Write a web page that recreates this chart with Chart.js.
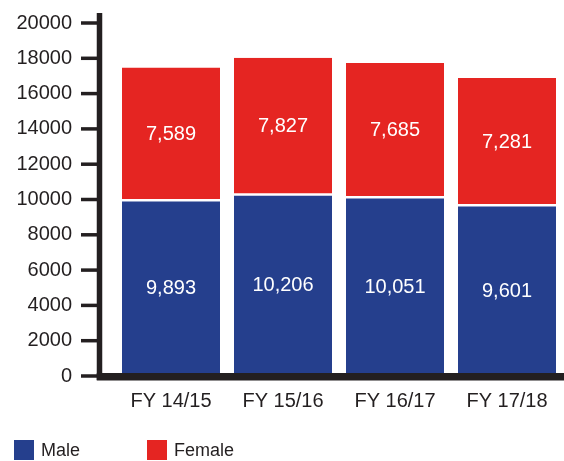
<!DOCTYPE html>
<html>
<head>
<meta charset="utf-8">
<script src="https://cdn.jsdelivr.net/npm/chart.js@4.4.1/dist/chart.umd.min.js"></script>
<style>
html,body{margin:0;padding:0;background:#ffffff;}
#wrap{width:564px;height:461px;position:relative;}
</style>
</head>
<body>
<div id="wrap"><canvas id="c" width="564" height="461"></canvas></div>
<script>
// ---- data ----
const categories = ['FY 14/15', 'FY 15/16', 'FY 16/17', 'FY 17/18'];
const seriesNames = ['Male', 'Female'];
const maleValues = [9893, 10206, 10051, 9601];
const femaleValues = [7589, 7827, 7685, 7281];
const yTickValues = [0, 2000, 4000, 6000, 8000, 10000, 12000, 14000, 16000, 18000, 20000];

// ---- style ----
const FONT = 'Liberation Sans, Arial, Helvetica, sans-serif';
const FONT_SIZE = 20;
const LEGEND_FONT_SIZE = 18;
const INK = '#231F20';
const BLUE = '#253F8D';
const RED = '#E52522';

const valueLabelPlugin = {
  id: 'valueLabels',
  afterDatasetsDraw(chart) {
    const ctx = chart.ctx;
    ctx.save();
    ctx.font = FONT_SIZE + 'px ' + FONT;
    ctx.fillStyle = '#FFFFFF';
    ctx.textAlign = 'center';
    ctx.textBaseline = 'middle';
    chart.data.datasets.forEach((ds, di) => {
      const meta = chart.getDatasetMeta(di);
      meta.data.forEach((el, i) => {
        const v = ds.data[i];
        const y = (el.y + el.base) / 2;
        ctx.fillText(v.toLocaleString('en-US'), el.x, y);
      });
    });
    ctx.restore();
  }
};

const axesPlugin = {
  id: 'customAxes',
  afterDatasetsDraw(chart) {
    const ctx = chart.ctx;
    const a = chart.chartArea;
    const ys = chart.scales.y;
    const lineX = a.left - 15.5;
    ctx.save();
    ctx.strokeStyle = INK;
    ctx.fillStyle = INK;
    // tick marks
    ctx.lineWidth = 3.5;
    ys.ticks.forEach(t => {
      const py = ys.getPixelForValue(t.value);
      ctx.beginPath();
      ctx.moveTo(a.left - 34, py);
      ctx.lineTo(lineX, py);
      ctx.stroke();
    });
    // vertical axis line
    const y0 = ys.getPixelForValue(0);
    const yTop = ys.getPixelForValue(ys.max) - 10;
    ctx.fillRect(lineX - 2.75, yTop, 5.5, y0 + 4 - yTop);
    // horizontal axis line
    ctx.fillRect(lineX - 2.75, y0 - 3, chart.width - (lineX - 2.75), 7.5);
    ctx.restore();
  }
};

const legendPlugin = {
  id: 'customLegend',
  afterDraw(chart) {
    const ctx = chart.ctx;
    const xs = [14, 147];
    ctx.save();
    ctx.font = LEGEND_FONT_SIZE + 'px ' + FONT;
    ctx.textAlign = 'left';
    ctx.textBaseline = 'middle';
    chart.data.datasets.forEach((ds, i) => {
      ctx.fillStyle = ds.backgroundColor;
      ctx.fillRect(xs[i], 440, 20, 20);
      ctx.fillStyle = INK;
      ctx.fillText(ds.label, xs[i] + 27, 451);
    });
    ctx.restore();
  }
};

new Chart(document.getElementById('c'), {
  type: 'bar',
  data: {
    labels: categories,
    datasets: [
      {
        label: seriesNames[0],
        data: maleValues,
        backgroundColor: BLUE,
        borderWidth: 0,
        barPercentage: 0.875,
        categoryPercentage: 1.0
      },
      {
        label: seriesNames[1],
        data: femaleValues,
        backgroundColor: RED,
        borderColor: '#FFFFFF',
        borderWidth: { top: 0, left: 0, right: 0, bottom: 2.5 },
        borderSkipped: false,
        barPercentage: 0.875,
        categoryPercentage: 1.0
      }
    ]
  },
  options: {
    responsive: false,
    animation: false,
    devicePixelRatio: 1,
    layout: { padding: { top: 23, right: 1, bottom: 0, left: 0 } },
    plugins: {
      legend: { display: false },
      tooltip: { enabled: false },
      title: { display: false }
    },
    scales: {
      x: {
        stacked: true,
        grid: { display: false, drawTicks: false },
        border: { display: false },
        ticks: {
          color: INK,
          font: { family: FONT, size: FONT_SIZE },
          padding: 13,
          maxRotation: 0,
          autoSkip: false
        },
        afterFit(scale) { scale.height = 85; scale.paddingLeft = 0; scale.paddingRight = 0; }
      },
      y: {
        stacked: true,
        min: 0,
        max: 20000,
        grid: { display: false, drawTicks: false },
        border: { display: false },
        afterBuildTicks(scale) {
          scale.ticks = yTickValues.map(v => ({ value: v }));
        },
        ticks: {
          color: INK,
          font: { family: FONT, size: FONT_SIZE },
          padding: 43,
          callback: (v) => String(v)
        },
        afterFit(scale) { scale.width = 115; scale.paddingTop = 0; scale.paddingBottom = 0; }
      }
    }
  },
  plugins: [valueLabelPlugin, axesPlugin, legendPlugin]
});
</script>
</body>
</html>
